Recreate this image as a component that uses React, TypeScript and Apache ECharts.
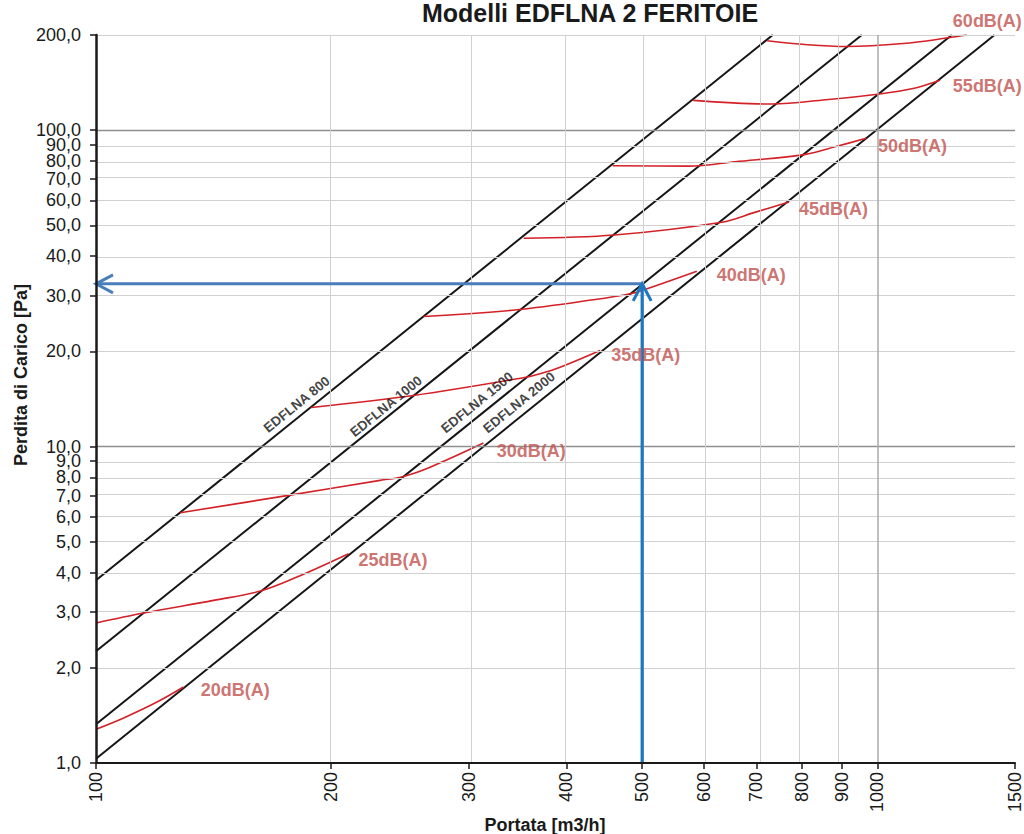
import React, { useEffect, useRef } from "react";
import * as echarts from "echarts";

// ---- axis ticks ----
const xTickValues = [100, 200, 300, 400, 500, 600, 700, 800, 900, 1000, 1500];
const yTickValues = [1, 2, 3, 4, 5, 6, 7, 8, 9, 10, 20, 30, 40, 50, 60, 70, 80, 90, 100, 200];
const darkGridX = [1000];
const darkGridY = [10, 100];

// ---- model lines (Portata m3/h, Perdita Pa) ----
const modelNames = ["EDFLNA 800", "EDFLNA 1000", "EDFLNA 1500", "EDFLNA 2000"];
const edflna800 = [[100, 3.78], [734.6, 200]];
const edflna1000 = [[100, 2.254], [955, 200]];
const edflna1500 = [[100, 1.325], [1245, 200]];
const edflna2000 = [[100, 1.032], [1412, 200]];
const modelLabelAnchors = [[180.7, 13.59], [235.1, 13.4], [307.5, 13.79], [347.9, 13.79]];

// ---- noise curves ----
const noiseNames = ["20dB(A)", "25dB(A)", "30dB(A)", "35dB(A)", "40dB(A)", "45dB(A)", "50dB(A)", "55dB(A)", "60dB(A)"];
const noise20 = [[100, 1.278], [108.5, 1.388], [119.7, 1.558], [129.4, 1.738]];
const noise25 = [[100, 2.77], [115.1, 2.978], [141.4, 3.266], [162.3, 3.494], [180.8, 3.87], [210.5, 4.586]];
const noise30 = [[128.2, 6.18], [175.5, 7.0], [231, 7.82], [247.5, 8.05], [267.7, 8.61], [313.2, 10.26]];
const noise35 = [[188.6, 13.3], [254.9, 14.51], [352.4, 16.51], [370.1, 17.0], [392.6, 17.83], [441.7, 20.14]];
const noise40 = [[262.5, 25.78], [345.6, 27.07], [433.1, 29.11], [482.6, 30.42], [507, 31.55], [587.3, 35.85]];
const noise45 = [[352.6, 45.56], [460.6, 46.66], [632.1, 51.2], [698.1, 55.1], [770.6, 59.3]];
const noise50 = [[458.3, 77.2], [572.6, 77.0], [657.6, 79.5], [809.4, 83.9], [884.9, 88.8], [967.3, 94.3]];
const noise55 = [[581.1, 124.3], [733.3, 121.0], [859, 124.9], [1006.5, 130.2], [1111, 135.5], [1202.6, 143.9]];
const noise60 = [[722.6, 191.7], [801.7, 186.9], [911.9, 183.9], [1078.6, 187.9], [1239, 196.3], [1301.7, 200]];
const noiseLabelAnchors = [
  [136.2, 1.697], [216.7, 4.37], [325.8, 9.72], [456.3, 19.52], [623, 34.75],
  [793.8, 56.57], [1001.5, 89.3], [1249, 137.7], [1249, 221],
];

// ---- selection example ----
const selectedFlow = 500;
const selectedPressure = 32.7;
const flowMin = 100;
const pressureMin = 1;

const FONT = "'Liberation Sans', Arial, sans-serif";

const lg = (v: number) => Math.log10(v);
const toLog = (pts: number[][]) => pts.map((p) => [lg(p[0]), lg(p[1])]);

function buildOption(): any {
  const modelLines = [edflna800, edflna1000, edflna1500, edflna2000];
  const noiseCurves = [noise20, noise25, noise30, noise35, noise40, noise45, noise50, noise55, noise60];

  const series: any[] = [];

  // gridlines (axis positions excluded: drawn by the axis lines)
  series.push({
    type: "line",
    name: "grid",
    data: [[lg(100), lg(1)]],
    showSymbol: false,
    lineStyle: { width: 0 },
    silent: true,
    z: 1,
    markLine: {
      silent: true,
      symbol: ["none", "none"],
      label: { show: false },
      animation: false,
      lineStyle: { type: "solid", width: 1, color: "#d0d0d0" },
      data: [
        ...yTickValues.slice(1).map((v) => ({
          yAxis: lg(v),
          lineStyle: { type: "solid", width: darkGridY.includes(v) ? 1.3 : 1, color: darkGridY.includes(v) ? "#8e8e8e" : "#d0d0d0" },
        })),
        ...xTickValues.slice(1).map((v) => ({
          xAxis: lg(v),
          lineStyle: { type: "solid", width: darkGridX.includes(v) ? 1.5 : 1, color: darkGridX.includes(v) ? "#aaaaaa" : "#d0d0d0" },
        })),
      ],
    },
  });

  modelLines.forEach((pts, i) => {
    series.push({
      type: "line",
      name: modelNames[i],
      data: toLog(pts),
      showSymbol: false,
      lineStyle: { color: "#161616", width: 2 },
      z: 3,
    });
  });

  noiseCurves.forEach((pts, i) => {
    series.push({
      type: "line",
      name: noiseNames[i],
      data: toLog(pts),
      showSymbol: false,
      smooth: 0.35,
      lineStyle: { color: "#d42027", width: 1.6 },
      z: 4,
    });
  });

  const arrowColorH = "#4a7ebb";
  const arrowColorV = "#1f77c0";
  series.push({
    type: "line",
    name: "arrowH",
    data: [
      { value: [lg(selectedFlow), lg(selectedPressure)], symbol: "none" },
      {
        value: [lg(flowMin), lg(selectedPressure)],
        symbol: "path://M18,0 L0,9 L18,18",
        symbolSize: [17, 18],
        symbolOffset: [8.5, 0],
      },
    ],
    lineStyle: { color: arrowColorH, width: 3 },
    itemStyle: { color: "rgba(0,0,0,0)", borderColor: arrowColorH, borderWidth: 3 },
    z: 5,
  });
  series.push({
    type: "line",
    name: "arrowV",
    data: [
      { value: [lg(selectedFlow), lg(pressureMin)], symbol: "none" },
      {
        value: [lg(selectedFlow), lg(selectedPressure)],
        symbol: "path://M0,18 L9,0 L18,18",
        symbolSize: [18, 17],
        symbolOffset: [0, 8.5],
      },
    ],
    lineStyle: { color: arrowColorV, width: 3.2 },
    itemStyle: { color: "rgba(0,0,0,0)", borderColor: arrowColorV, borderWidth: 3 },
    z: 5,
  });

  series.push({
    type: "scatter",
    name: "modelLabels",
    clip: false,
    symbolSize: 0,
    silent: true,
    z: 6,
    data: modelLabelAnchors.map((p, i) => ({ name: modelNames[i], value: [lg(p[0]), lg(p[1])] })),
    label: {
      show: true,
      position: "inside",
      rotate: 39,
      formatter: (p: any) => p.name,
      color: "#111111",
      fontFamily: FONT,
      fontWeight: "bold",
      fontSize: 13.5,
    },
  });

  series.push({
    type: "scatter",
    name: "noiseLabels",
    clip: false,
    symbolSize: 0,
    silent: true,
    z: 6,
    data: noiseLabelAnchors.map((p, i) => ({ name: noiseNames[i], value: [lg(p[0]), lg(p[1])] })),
    label: {
      show: true,
      position: "right",
      distance: 0,
      formatter: (p: any) => p.name,
      color: "#c0504d",
      fontFamily: FONT,
      fontWeight: "bold",
      fontSize: 18,
    },
  });

  return {
    animation: false,
    backgroundColor: "#ffffff",
    grid: { left: 96, right: 9, top: 35, bottom: 71, containLabel: false },
    xAxis: {
      type: "value",
      z: 8,
      min: lg(100),
      max: lg(1500),
      splitLine: { show: false },
      axisLine: { show: true, onZero: false, lineStyle: { color: "#1a1a1a", width: 2 } },
      axisTick: { show: true, length: 6, customValues: xTickValues.map(lg), lineStyle: { color: "#1a1a1a", width: 1.5 } },
      axisLabel: {
        customValues: xTickValues.map(lg),
        rotate: 90,
        margin: 9,
        color: "#1a1a1a",
        fontFamily: FONT,
        fontSize: 18,
        formatter: (v: number) => String(Math.round(Math.pow(10, v))),
      },
    },
    yAxis: {
      type: "value",
      z: 8,
      min: lg(1),
      max: lg(200),
      splitLine: { show: false },
      axisLine: { show: true, onZero: false, lineStyle: { color: "#1a1a1a", width: 2.5 } },
      axisTick: { show: true, length: 6, customValues: yTickValues.map(lg), lineStyle: { color: "#1a1a1a", width: 1.5 } },
      axisLabel: {
        customValues: yTickValues.map(lg),
        margin: 15,
        color: "#1a1a1a",
        fontFamily: FONT,
        fontSize: 18,
        formatter: (v: number) => (Math.round(Math.pow(10, v) * 10) / 10).toFixed(1).replace(".", ","),
      },
    },
    graphic: [
      {
        type: "text",
        x: 590,
        y: 13,
        style: {
          text: "Modelli EDFLNA 2 FERITOIE",
          fill: "#1a1a1a",
          fontFamily: FONT,
          fontWeight: "bold",
          fontSize: 25,
          align: "center",
          verticalAlign: "middle",
          textAlign: "center",
          textVerticalAlign: "middle",
        },
      },
      {
        type: "text",
        x: 545,
        y: 825,
        style: {
          text: "Portata [m3/h]",
          fill: "#1a1a1a",
          fontFamily: FONT,
          fontWeight: "bold",
          fontSize: 18,
          align: "center",
          verticalAlign: "middle",
          textAlign: "center",
          textVerticalAlign: "middle",
        },
      },
      {
        type: "text",
        x: 21,
        y: 375,
        rotation: Math.PI / 2,
        style: {
          text: "Perdita di Carico [Pa]",
          fill: "#1a1a1a",
          fontFamily: FONT,
          fontWeight: "bold",
          fontSize: 18,
          align: "center",
          verticalAlign: "middle",
          textAlign: "center",
          textVerticalAlign: "middle",
        },
      },
    ],
    series,
  };
}

export default function App() {
  const ref = useRef<HTMLDivElement>(null);
  useEffect(() => {
    if (!ref.current) return;
    const chart = echarts.init(ref.current, undefined, { renderer: "svg" });
    chart.setOption(buildOption());
    return () => chart.dispose();
  }, []);
  return (
    <div
      ref={ref}
      style={{ position: "absolute", left: 0, top: 0, width: 1024, height: 834, background: "#fff" }}
    />
  );
}
